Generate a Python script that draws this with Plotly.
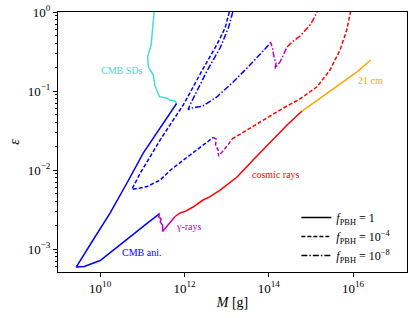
import numpy as np
import plotly.graph_objects as go

# ---------------- data ----------------
# f_PBH = 1
cmb_f1_M = [6.5e11, 2.65e11, 1.05e11, 4.6e10, 1.73e10, 6.8e9, 2.7e9,
            4.2e9, 6.8e9, 1e10, 1.73e10, 2.98e10, 4.37e10, 6.76e10, 1.05e11,
            1.62e11, 2.5e11, 2.58e11]
cmb_f1_eps = [0.0695, 0.034, 0.0164, 0.00726, 0.00286, 0.0013, 5.9e-4,
              6.0e-4, 6.65e-4, 7.15e-4, 9.0e-4, 1.12e-3, 1.34e-3, 1.6e-3, 1.93e-3,
              2.3e-3, 2.73e-3, 2.81e-3]
gam_f1_M = [2.58e11, 2.44e11, 2.8e11, 2.65e11, 3.03e11, 3.03e11, 6.0e11]
gam_f1_eps = [2.81e-3, 2.58e-3, 2.4e-3, 2.2e-3, 2.01e-3, 1.67e-3, 2.58e-3]
cr_f1_M = [6.0e11, 7.9e11, 1.04e12, 1.6e12, 2.77e12, 4.06e12, 7.0e12,
           1.77e13, 4.25e13, 1.07e14, 2.72e14, 6.17e14]
cr_f1_eps = [2.58e-3, 2.86e-3, 2.99e-3, 3.4e-3, 4.17e-3, 4.6e-3, 5.58e-3,
             8.15e-3, 0.0134, 0.022, 0.0372, 0.0558]
h21_M = [6.17e14, 1.65e15, 2.84e15, 5.78e15, 1.24e16, 2.62e16]
h21_eps = [0.0558, 0.081, 0.101, 0.130, 0.175, 0.247]
sd_M = [1.91e11, 1.76e11, 1.62e11, 1.34e11, 1.40e11, 1.81e11, 2.01e11,
        2.55e11, 3.88e11, 4.57e11, 6.0e11, 6.5e11]
sd_eps = [1.0, 0.59, 0.382, 0.269, 0.201, 0.160, 0.116,
          0.0847, 0.0809, 0.0762, 0.0746, 0.0695]

# f_PBH = 1e-4
cmb_f4_M = [1.16e13, 9.2e12, 5.85e12, 2.82e12, 9.44e11, 6.59e11, 2.65e11, 8.89e10, 5.65e10,
            8.89e10, 1.30e11, 2.65e11, 4.83e11, 1.36e12, 2.77e12, 4.79e12]
cmb_f4_eps = [1.0, 0.627, 0.385, 0.195, 0.0671, 0.0497, 0.024, 9.08e-3, 5.7e-3,
              5.92e-3, 6.18e-3, 7.46e-3, 0.01014, 0.01549, 0.0207, 0.0258]
gam_f4_M = [4.79e12, 5.64e12, 5.48e12, 6.28e12, 6.46e12, 7.82e12, 1.03e13, 1.35e13]
gam_f4_eps = [0.0258, 0.0247, 0.0207, 0.0179, 0.0150, 0.0169, 0.0201, 0.0247]
cr_f4_M = [1.35e13, 3.06e13, 7.33e13, 2.44e14, 5.53e14, 1.40e15, 2.84e15,
           4.91e15, 7.08e15, 8.71e15]
cr_f4_eps = [0.0247, 0.0321, 0.0430, 0.0627, 0.0793, 0.113, 0.1845,
             0.330, 0.59, 1.0]

# f_PBH = 1e-8
cmb_f8_M = [1.40e13, 1.10e13, 7.0e12, 3.39e12, 1.36e12, 1.22e12,
            1.69e12, 2.62e12, 5.96e12, 1.45e13, 3.41e13, 6.95e13, 1.07e14]
cmb_f8_eps = [1.0, 0.627, 0.350, 0.1775, 0.0671, 0.0583,
              0.0622, 0.0637, 0.0847, 0.131, 0.207, 0.307, 0.399]
gam_f8_M = [1.07e14, 1.10e14, 1.23e14, 1.34e14, 1.49e14, 1.41e14, 1.85e14, 2.31e14, 2.72e14]
gam_f8_eps = [0.399, 0.417, 0.350, 0.262, 0.226, 0.193, 0.233, 0.294, 0.361]
cr_f8_M = [2.72e14, 3.57e14, 5.53e14, 9.55e14, 1.19e15, 1.40e15]
cr_f8_eps = [0.361, 0.417, 0.497, 0.684, 0.839, 1.0]

x_tick_vals = [1e10, 1e12, 1e14, 1e16]
x_tick_text = ["10<sup>10</sup>", "10<sup>12</sup>", "10<sup>14</sup>", "10<sup>16</sup>"]
y_tick_vals = [1e-3, 1e-2, 1e-1, 1]
y_tick_text = ["10<sup>−3</sup>", "10<sup>−2</sup>", "10<sup>−1</sup>", "10<sup>0</sup>"]
legend_labels = ["<i>f</i><sub>PBH</sub> = 1",
                 "<i>f</i><sub>PBH</sub> = 10<sup>−4</sup>",
                 "<i>f</i><sub>PBH</sub> = 10<sup>−8</sup>"]

# ---------------- styles ----------------
BLUE = "#0000ff"
RED = "#ff0000"
MAG = "#bf00bf"
TURQ = "#40e0d0"
ORANGE = "#ffa500"
DASH = "4px,2px"
DASHDOT = "6px,2px,1.5px,2px"
LW = 1.5
FONT = "Liberation Serif"

fig = go.Figure()


def add(M, e, color, dash):
    fig.add_trace(go.Scatter(x=M, y=e, mode="lines", showlegend=False,
                             line=dict(color=color, width=LW, dash=dash),
                             hoverinfo="skip"))


add(sd_M, sd_eps, TURQ, "solid")
add(cmb_f1_M, cmb_f1_eps, BLUE, "solid")
add(gam_f1_M, gam_f1_eps, MAG, "solid")
add(cr_f1_M, cr_f1_eps, RED, "solid")
add(h21_M, h21_eps, ORANGE, "solid")

add(cmb_f4_M, cmb_f4_eps, BLUE, DASH)
add(gam_f4_M, gam_f4_eps, MAG, DASH)
add(cr_f4_M, cr_f4_eps, RED, DASH)

add(cmb_f8_M, cmb_f8_eps, BLUE, DASHDOT)
add(gam_f8_M, gam_f8_eps, MAG, DASHDOT)
add(cr_f8_M, cr_f8_eps, RED, DASHDOT)

# legend entries
for lab, d in zip(legend_labels, ["solid", DASH, DASHDOT]):
    fig.add_trace(go.Scatter(x=[None], y=[None], mode="lines", name=lab,
                             line=dict(color="black", width=LW, dash=d)))

# curve labels
labels = [("CMB SDs", 3.24e10, 0.181, TURQ),
          ("CMB ani.", 9.4e10, 8.97e-4, BLUE),
          ("γ-rays", 1.27e12, 1.95e-3, MAG),
          ("cosmic rays", 1.49e14, 8.9e-3, RED),
          ("21 cm", 2.6e16, 0.134, ORANGE)]
for t, x, y, c in labels:
    fig.add_annotation(x=np.log10(x), y=np.log10(y), text=t, showarrow=False,
                       font=dict(family=FONT, size=10, color=c),
                       xanchor="center", yanchor="middle")

axis_common = dict(type="log", showline=True, linecolor="black", linewidth=1,
                   mirror=True, ticks="outside", ticklen=4, tickwidth=1,
                   tickcolor="black", showgrid=False, zeroline=False, automargin=False,
                   tickfont=dict(family=FONT, size=13, color="black"))

fig.update_xaxes(range=[9.0, 17.28], tickvals=x_tick_vals, ticktext=x_tick_text,
                 title=dict(text="<i>M</i> [g]", font=dict(family=FONT, size=14, color="black"),
                            standoff=2),
                 **axis_common)
fig.update_yaxes(range=[-3.291, 0], tickvals=y_tick_vals, ticktext=y_tick_text,
                 minor=dict(ticks="outside", ticklen=2, tickcolor="black",
                            tickvals=[v * k for v in [1e-4, 1e-3, 1e-2, 1e-1] for k in range(2, 10)]),
                 title=dict(text="<i>ε</i>", font=dict(family=FONT, size=14, color="black"),
                            standoff=4),
                 **axis_common)

fig.update_layout(
    width=415, height=318,
    margin=dict(l=58, r=8, t=12, b=46, autoexpand=False),
    plot_bgcolor="white", paper_bgcolor="white",
    legend=dict(x=0.683, y=0.265, xanchor="left", yanchor="top",
                bgcolor="rgba(255,255,255,0)", borderwidth=0,
                font=dict(family=FONT, size=12, color="black"),
                tracegroupgap=0, itemwidth=30),
)

fig.write_html("out.html", config={"displayModeBar": False},
               post_script="document.body.style.margin='0';document.body.style.padding='0';"
                           "document.documentElement.style.overflow='hidden';")
